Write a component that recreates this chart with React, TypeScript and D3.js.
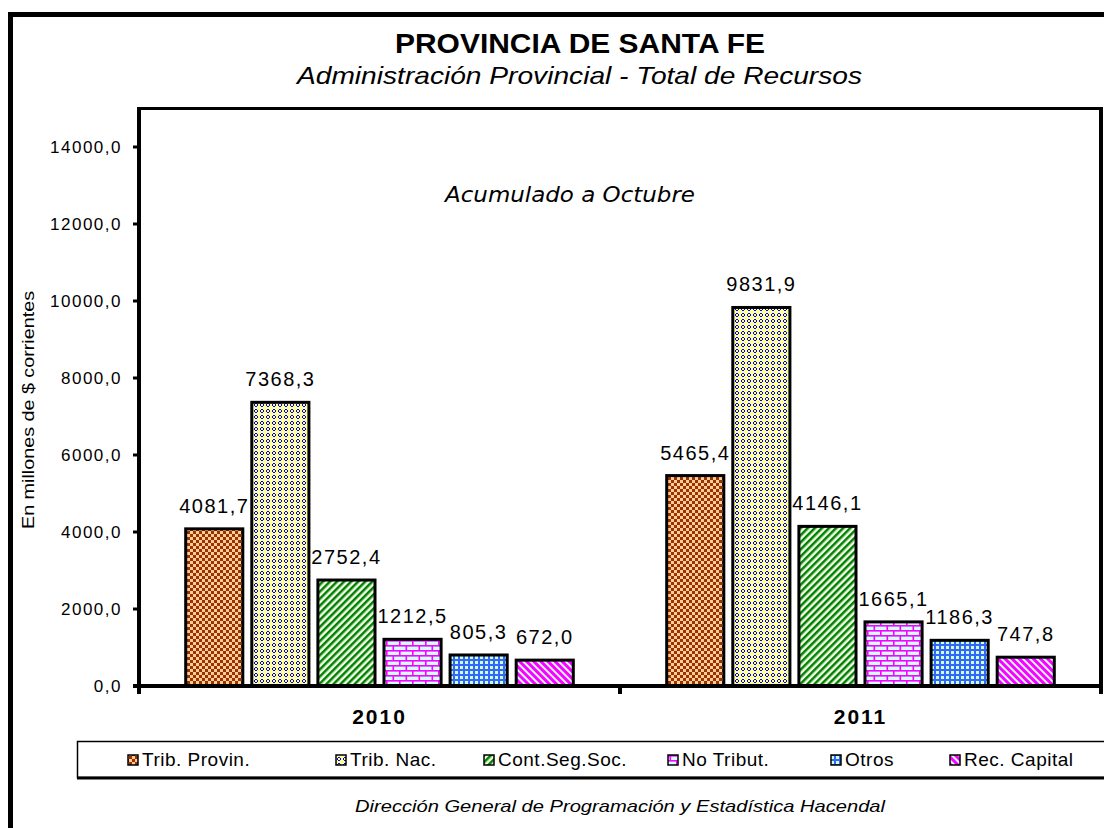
import React from 'react';
import * as d3 from 'd3';

// ---------- data ----------
const categories = ['2010', '2011'];
const seriesNames = ['Trib. Provin.', 'Trib. Nac.', 'Cont.Seg.Soc.', 'No Tribut.', 'Otros', 'Rec. Capital'];
const values2010 = [4081.7, 7368.3, 2752.4, 1212.5, 805.3, 672.0];
const values2011 = [5465.4, 9831.9, 4146.1, 1665.1, 1186.3, 747.8];
const yTicks = [0, 2000, 4000, 6000, 8000, 10000, 12000, 14000];
const titleText = 'PROVINCIA DE SANTA FE';
const subtitleText = 'Administración  Provincial - Total de Recursos';
const noteText = 'Acumulado a Octubre';
const yTitleText = 'En millones de $ corrientes';
const footerText = 'Dirección General de Programación y Estadística Hacendal';

// ---------- layout (not data) ----------
const W = 1104;
const H = 828;
const PL = 139;
const PR = 1101;
const PT = 108.5;
const PB = 686;
const legendItemX = [128, 336, 484, 668, 831, 950];
const FONT = "'Liberation Sans', Arial, Helvetica, sans-serif";

const fmt = (v: number) => d3.format('.1f')(v).replace('.', ',');

const Patterns = () => (
  <defs>
    <pattern id="pat0" width="6" height="6" patternUnits="userSpaceOnUse">
      <rect width="6" height="6" fill="#993300" />
      <rect x="0" y="0" width="3" height="3" fill="#FFCC99" />
      <rect x="3" y="3" width="3" height="3" fill="#FFCC99" />
    </pattern>
    <pattern id="pat1" width="6" height="6" patternUnits="userSpaceOnUse" shapeRendering="crispEdges">
      <rect width="6" height="6" fill="#FFFF99" />
      <rect x="2" y="1" width="2" height="1" fill="#0000FF" />
      <rect x="1" y="2" width="1" height="2" fill="#0000FF" />
      <rect x="4" y="2" width="1" height="2" fill="#0000FF" />
      <rect x="2" y="4" width="2" height="1" fill="#0000FF" />
    </pattern>
    <pattern id="pat2" width="5" height="5" patternUnits="userSpaceOnUse" patternTransform="rotate(45)">
      <rect width="5" height="5" fill="#F4FFE8" />
      <rect width="2.5" height="5" fill="#008000" />
    </pattern>
    <pattern id="pat3" width="13" height="10" patternUnits="userSpaceOnUse">
      <rect width="13" height="10" fill="#CCFFFF" />
      <rect y="0" width="13" height="1.6" fill="#FF00FF" />
      <rect y="5" width="13" height="1.6" fill="#FF00FF" />
      <rect x="0" y="0" width="1.6" height="5" fill="#FF00FF" />
      <rect x="6.5" y="5" width="1.6" height="5" fill="#FF00FF" />
    </pattern>
    <pattern id="pat4" width="5" height="5" patternUnits="userSpaceOnUse">
      <rect width="5" height="5" fill="#3366FF" />
      <rect x="1" y="1" width="3" height="3" fill="#CCFFCC" />
    </pattern>
    <pattern id="pat5" width="5" height="5" patternUnits="userSpaceOnUse" patternTransform="rotate(-45)">
      <rect width="5" height="5" fill="#CCFFFF" />
      <rect width="3" height="5" fill="#FF00FF" />
    </pattern>
  </defs>
);

export default function App() {
  const y = d3.scaleLinear().domain([0, 15000]).range([PB, PT]);
  const x0 = d3.scaleBand<string>().domain(categories).range([PL, PR]);
  const bw = x0.bandwidth();
  const x1 = d3.scaleBand<string>().domain(seriesNames).range([46.7, bw - 46.7]).paddingInner(0.136);
  const allValues = [values2010, values2011];

  return (
    <svg
      width={W}
      height={H}
      style={{ position: 'absolute', left: 0, top: 0, background: '#fff' }}
      fontFamily={FONT}
    >
      <Patterns />
      <rect x={0} y={0} width={W} height={H} fill="#fff" />
      {/* outer frame */}
      <rect x={10.5} y={14.5} width={1110} height={830} fill="none" stroke="#000" strokeWidth={5} />

      {/* titles */}
      <text x={580} y={53} textAnchor="middle" fontSize={28} fontWeight="bold" textLength={370} lengthAdjust="spacingAndGlyphs">
        {titleText}
      </text>
      <text x={579.5} y={84} textAnchor="middle" fontSize={24} fontStyle="italic" textLength={565} lengthAdjust="spacingAndGlyphs">
        {subtitleText}
      </text>

      {/* plot box top & right */}
      <line x1={PL} x2={PR} y1={PT} y2={PT} stroke="#000" strokeWidth={3} />
      <line x1={PR} x2={PR} y1={PT - 1.5} y2={PB + 8} stroke="#000" strokeWidth={4} />

      {/* note */}
      <text x={570} y={202} textAnchor="middle" fontSize={22} fontStyle="italic"
        fontFamily="'Comic Sans MS', 'DejaVu Sans', sans-serif" textLength={250} lengthAdjust="spacingAndGlyphs">
        {noteText}
      </text>

      {/* bars */}
      {categories.map((c, ci) => (
        <g key={c} transform={`translate(${x0(c)},0)`}>
          {seriesNames.map((s, si) => {
            const v = allValues[ci][si];
            const bx = x1(s)!;
            return (
              <g key={s}>
                <rect x={bx} y={y(v)} width={x1.bandwidth()} height={PB - y(v)}
                  fill={`url(#pat${si})`} stroke="#000" strokeWidth={3} />
                <text x={bx + x1.bandwidth() / 2} y={y(v) - 16} textAnchor="middle" fontSize={20}
                  letterSpacing={1.5} fill="#000">
                  {fmt(v)}
                </text>
              </g>
            );
          })}
        </g>
      ))}

      {/* y axis */}
      <line x1={PL} x2={PL} y1={PT - 1.5} y2={PB + 8} stroke="#000" strokeWidth={4} />
      {yTicks.map((t) => (
        <g key={t}>
          <line x1={PL - 6} x2={PL} y1={y(t)} y2={y(t)} stroke="#000" strokeWidth={3} />
          <text x={122} y={y(t)} dy="0.36em" textAnchor="end" fontSize={17} letterSpacing={1.5} fill="#000">
            {fmt(t)}
          </text>
        </g>
      ))}
      <text transform={`translate(28,410) rotate(-90)`} textAnchor="middle" dominantBaseline="central"
        fontSize={17} textLength={238} lengthAdjust="spacingAndGlyphs">
        {yTitleText}
      </text>

      {/* x axis */}
      <line x1={PL - 6} x2={PR + 2} y1={PB} y2={PB} stroke="#000" strokeWidth={4} />
      {categories.map((c) => (
        <line key={'t' + c} x1={x0(c)! + bw} x2={x0(c)! + bw} y1={PB} y2={PB + 8} stroke="#000" strokeWidth={4} />
      ))}
      {categories.map((c) => (
        <text key={'l' + c} x={x0(c)! + bw / 2} y={724} textAnchor="middle" fontSize={21} fontWeight="bold"
          letterSpacing={2} fill="#000">
          {c}
        </text>
      ))}

      {/* legend */}
      <rect x={77.5} y={741.5} width={1040} height={36} fill="#fff" stroke="#000" strokeWidth={1.5} />
      <line x1={77} x2={1110} y1={778} y2={778} stroke="#000" strokeWidth={3} />
      {seriesNames.map((s, si) => (
        <g key={'lg' + s}>
          <rect x={legendItemX[si]} y={755} width={10} height={10} fill={`url(#pat${si})`} stroke="#000" strokeWidth={1.5} />
          <text x={legendItemX[si] + 14} y={766} fontSize={19} letterSpacing={0.5} fill="#000">
            {s}
          </text>
        </g>
      ))}

      {/* footer */}
      <text x={620} y={812} textAnchor="middle" fontSize={17} fontStyle="italic" textLength={530} lengthAdjust="spacingAndGlyphs">
        {footerText}
      </text>
    </svg>
  );
}
